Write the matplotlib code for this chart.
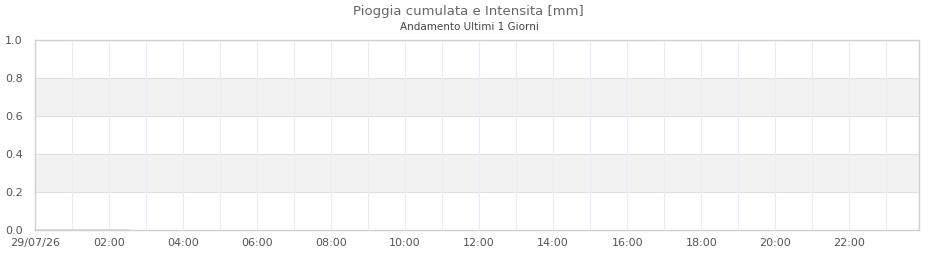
import matplotlib
matplotlib.use("Agg")
import matplotlib.pyplot as plt
from datetime import datetime, timedelta

# Data
times = ["00:00", "00:10", "00:20", "00:30", "00:40", "00:50", "01:00", "01:10",
         "01:20", "01:30", "01:40", "01:50", "02:00", "02:10", "02:20", "02:30"]
cumulata = [0, 0, 0, 0, 0, 0, 0, 0, 0, 0, 0, 0, 0, 0, 0, 0]
intensita = [0, 0, 0, 0, 0, 0, 0, 0, 0, 0, 0, 0, 0, 0, 0, 0]
yticks = [0.0, 0.2, 0.4, 0.6, 0.8, 1.0]
title = "Pioggia cumulata e Intensita [mm]"
subtitle = "Andamento Ultimi 1 Giorni"

base = datetime(2026, 7, 29)
t = [base + timedelta(hours=int(s[:2]), minutes=int(s[3:])) for s in times]

plt.rcParams['font.family'] = ['DejaVu Sans']
fig = plt.figure(figsize=(9.4, 2.6), dpi=100)
ax = fig.add_axes([35/940, 30/260, 884/940, 190/260])

x0 = base
x1 = base + timedelta(hours=23, minutes=53)
ax.set_xlim(x0, x1)
ax.set_ylim(0, 1.0)

# alternating bands
for i in range(len(yticks) - 1):
    if i % 2 == 1:
        ax.axhspan(yticks[i], yticks[i+1], color="#f2f2f2", zorder=0, lw=0)

for y in yticks[1:-1]:
    ax.axhline(y, color="#e0e0e0", lw=0.8, zorder=1)

hours = [base + timedelta(hours=h) for h in range(1, 24)]
for h in hours:
    ax.axvline(h, color="#ecebfa", lw=0.8, zorder=1)

ax.plot(t, cumulata, color="#b0b0b0", lw=1.0, zorder=3)
ax.plot(t, intensita, color="#d090d0", lw=1.0, zorder=4)

ax.set_yticks(yticks)
ax.set_yticklabels([f"{v:.1f}" for v in yticks])
xt = [base + timedelta(hours=h) for h in range(0, 24, 2)]
ax.set_xticks(xt)
ax.set_xticklabels(["29/07/26"] + [f"{h:02d}:00" for h in range(2, 24, 2)])
ax.tick_params(axis='both', length=0, labelsize=8, colors="#555555", pad=6)
ax.tick_params(axis='y', pad=9)

for s in ax.spines.values():
    s.set_color("#d0d0d0")
    s.set_linewidth(1.0)

fig.text(468/940, 1 - 11/260, title, ha="center", va="center", fontsize=9.5, color="#666666")
fig.text(469/940, 1 - 27/260, subtitle, ha="center", va="center", fontsize=7.5, color="#444444")

fig.savefig("out.png", dpi=100, facecolor="white")
